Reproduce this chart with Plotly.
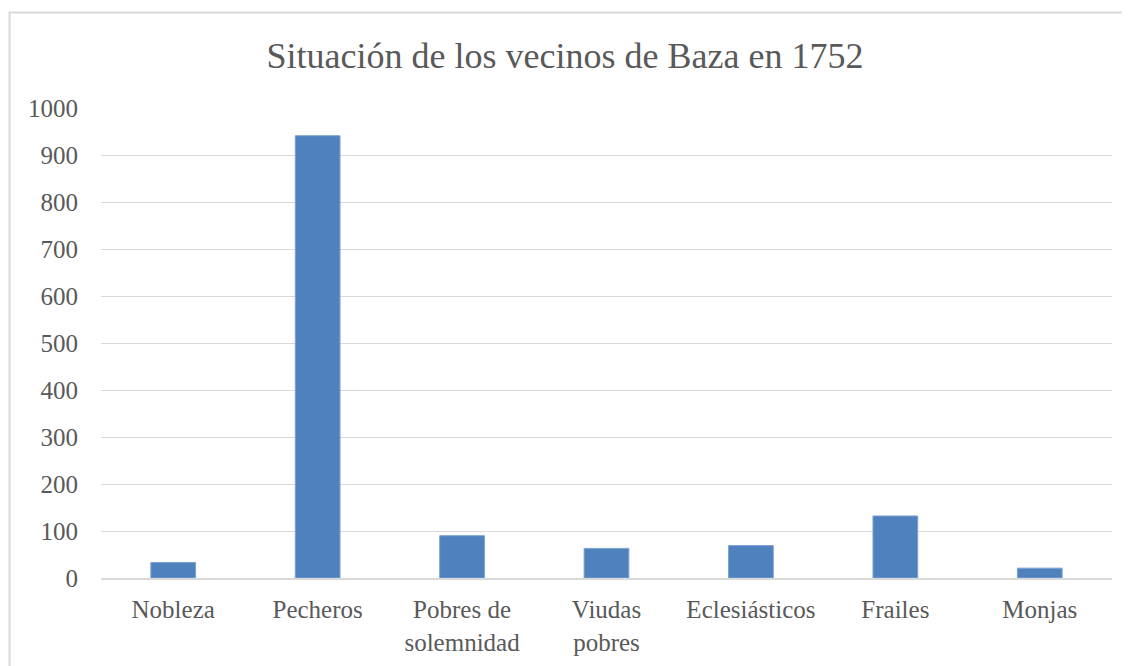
import plotly.graph_objects as go

categorias = ['Nobleza', 'Pecheros', 'Pobres de<br>solemnidad', 'Viudas<br>pobres',
              'Eclesiásticos', 'Frailes', 'Monjas']
vecinos = [33, 941, 90, 63, 69, 132, 21]

fig = go.Figure()

fig.add_trace(go.Bar(
    x=categorias,
    y=vecinos,
    marker=dict(color='#4f81bd', line=dict(color='#7da3d6', width=1)),
    hovertemplate='%{x}: %{y}<extra></extra>'
))

fig.update_layout(
    width=1114,
    height=658,
    title=dict(text='Situación de los vecinos de Baza en 1752', x=0.5, xanchor='center',
               y=0.928, yanchor='middle',
               font=dict(family='Liberation Serif', size=36, color='#595959')),
    font=dict(family='Liberation Serif', size=25, color='#595959'),
    plot_bgcolor='white',
    paper_bgcolor='white',
    margin=dict(l=93, r=10, t=100, b=86, pad=0),
    bargap=0.69,
    showlegend=False,
    xaxis=dict(showgrid=False, showline=True, linecolor='#d9d9d9', linewidth=2,
               ticks='outside', ticklen=8, tickcolor='rgba(0,0,0,0)',
               tickfont=dict(size=25, color='#595959')),
    yaxis=dict(range=[0, 1000], dtick=100, showgrid=True, gridcolor='#d9d9d9', gridwidth=1,
               zeroline=False, showline=False, ticks='', ticklabelstandoff=22,
               tickfont=dict(size=25, color='#595959')),
)

# marco exterior del gráfico
fig.add_shape(type='rect', xref='paper', yref='paper',
              x0=-0.0905, x1=1.05, y0=-0.3, y1=1.203,
              line=dict(color='#d9d9d9', width=2), layer='below')

fig.write_html('out.html')
